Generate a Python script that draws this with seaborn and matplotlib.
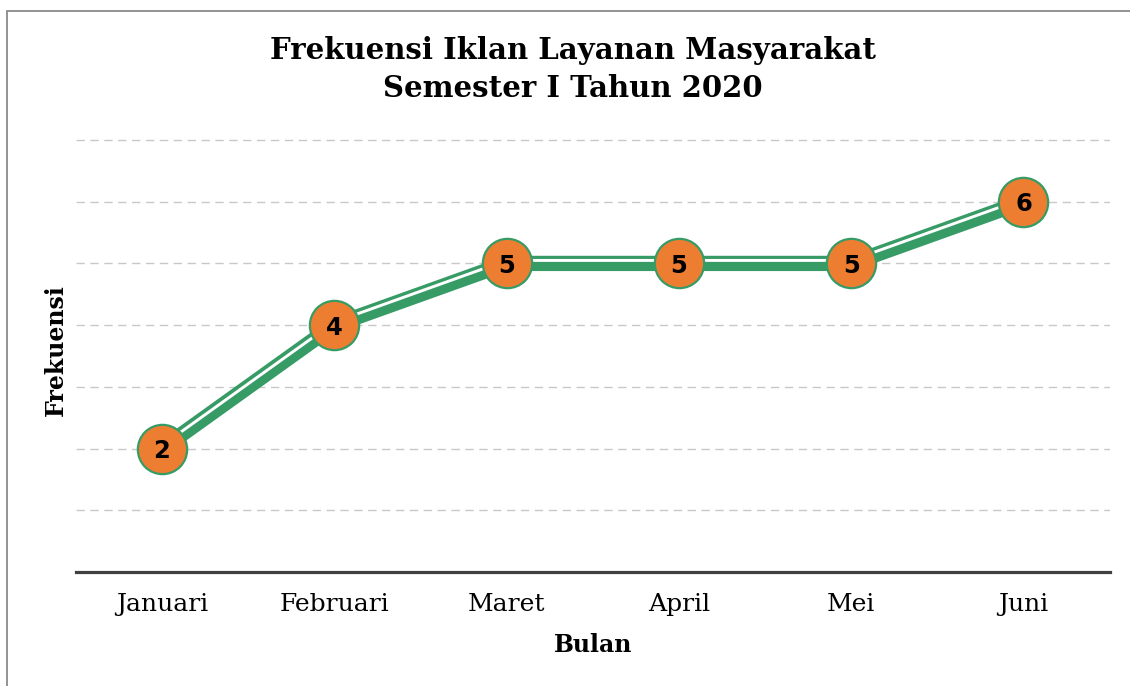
import matplotlib
matplotlib.use("Agg")
import matplotlib.pyplot as plt
import matplotlib.transforms as mtransforms
from matplotlib.patches import Rectangle
import pandas as pd
import seaborn as sns

# data
bulan = ["Januari", "Februari", "Maret", "April", "Mei", "Juni"]
frekuensi = [2, 4, 5, 5, 5, 6]

GREEN = "#379B66"
ORANGE = "#ED7D31"

sns.set_theme(style="white")
plt.rcParams["font.family"] = ["DejaVu Serif"]

df = pd.DataFrame({"Bulan": bulan, "Frekuensi": frekuensi})

fig = plt.figure(figsize=(11.3, 6.86), dpi=100)
ax = fig.add_axes([0.067, 0.166, 0.915, 0.648])

# thick green line
sns.lineplot(data=df, x="Bulan", y="Frekuensi", sort=False, ax=ax,
             color=GREEN, linewidth=11, solid_capstyle="butt", zorder=3)

# thin white stripe above the centre for the double-line look
stripe = mtransforms.offset_copy(ax.transData, fig=fig, x=0, y=3.0, units="dots")
ax.plot(df["Bulan"], df["Frekuensi"], color="white", linewidth=2.1,
        transform=stripe, zorder=4, solid_capstyle="butt")

# markers
ax.plot(df["Bulan"], df["Frekuensi"], linestyle="none", marker="o",
        markersize=35.5, markerfacecolor=ORANGE, markeredgecolor=GREEN,
        markeredgewidth=1.6, zorder=5)

for i, v in enumerate(frekuensi):
    ax.text(i, v, str(v), ha="center", va="center_baseline", fontsize=17.5,
            fontweight="bold", color="black", family=["DejaVu Sans"], zorder=6)

ax.set_xlim(-0.5, 5.5)
ax.set_ylim(0, 7.2)
ax.set_yticks(range(1, 8))
ax.set_yticklabels([])
ax.yaxis.grid(True, color="#c8c8c8", linestyle=(0, (6, 4)), linewidth=1.0)
ax.set_axisbelow(True)

for s in ["left", "right", "top"]:
    ax.spines[s].set_visible(False)
ax.spines["bottom"].set_color("#404040")
ax.spines["bottom"].set_linewidth(2.3)

ax.tick_params(axis="x", length=0, pad=15, labelsize=18, labelcolor="black")
ax.tick_params(axis="y", length=0)

ax.set_xlabel("Bulan", fontsize=17, fontweight="bold", labelpad=12, color="black")
ax.set_ylabel("Frekuensi", fontsize=17, fontweight="bold", labelpad=2, color="black")

fig.text(0.507, 0.899, "Frekuensi Iklan Layanan Masyarakat\nSemester I Tahun 2020",
         ha="center", va="center", fontsize=21, fontweight="bold",
         linespacing=1.4, color="black")

# outer frame
fig.patches.append(Rectangle((0.0065, -0.01), 1.1, 0.994, transform=fig.transFigure,
                             fill=False, edgecolor="#8a8a8a", linewidth=1.3))

fig.savefig("out.png", dpi=100)
